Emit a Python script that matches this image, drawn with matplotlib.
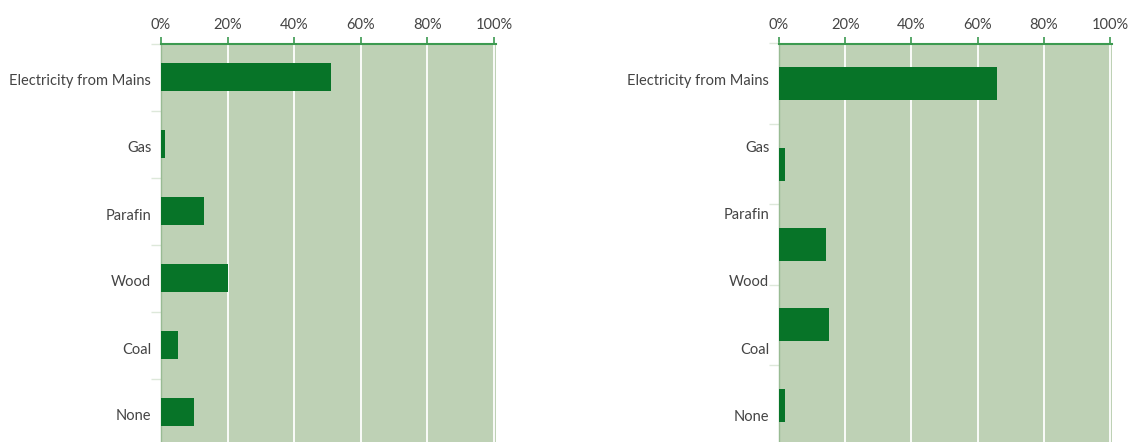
import numpy as np
import matplotlib.pyplot as plt
from matplotlib.ticker import FuncFormatter
from matplotlib.transforms import ScaledTranslation

# Energy sources (shared labels)
sources = ["Electricity from Mains", "Gas", "Parafin", "Wood", "Coal", "None"]

# Share of households (%) per source, left panel
left_values = [51, 1.2, 13, 20, 5, 10]
# Right panel has only five bars, spread over its own slots
right_values = [66, 1.8, 14.2, 15.1, 1.8]

x_ticks = [0, 20, 40, 60, 80, 100]

BG = "#bed1b5"
BAR = "#077428"
AXIS_GREEN = "#3c9a50"
TEXT = "#444444"

plt.rcParams["font.family"] = ["Lato", "DejaVu Sans"]

fig = plt.figure(figsize=(11.3, 4.42), dpi=100)
W, H = 1130, 442
TOP = 43.5
AX_H = 402


def style_axis(ax):
    ax.set_facecolor(BG)
    ax.set_xlim(0, 100.6)
    ax.xaxis.tick_top()
    ax.set_xticks(x_ticks)
    ax.xaxis.set_major_formatter(FuncFormatter(lambda v, p: f"{v:.0f}%"))
    ax.tick_params(axis="x", which="major", direction="out", length=5,
                   width=1.2, color=AXIS_GREEN, labelcolor=TEXT,
                   labelsize=10.5, pad=3)
    ax.grid(axis="x", color="white", linewidth=1.3)
    ax.set_axisbelow(True)
    for side in ("bottom", "right"):
        ax.spines[side].set_visible(False)
    ax.spines["top"].set_color(AXIS_GREEN)
    ax.spines["top"].set_linewidth(1.5)
    ax.spines["left"].set_color("#98bb93")
    ax.spines["left"].set_linewidth(1)


def nudge_labels(axis, dy_px=-3):
    # move category labels down a touch so they sit level with the bars
    shift = ScaledTranslation(0, dy_px / 100, fig.dpi_scale_trans)
    for tick in axis.get_major_ticks():
        tick.label1.set_transform(tick.label1.get_transform() + shift)


# Left panel
ax1 = fig.add_axes([161 / W, (H - TOP - AX_H) / H, 335 / W, AX_H / H])
style_axis(ax1)
y1 = np.arange(len(left_values))
ax1.barh(y1, left_values, height=0.41, color=BAR, zorder=3)
ax1.set_ylim(len(sources) - 0.5, -0.5)
ax1.set_yticks(y1)
ax1.set_yticklabels(sources)
ax1.set_yticks(np.arange(-0.5, len(sources), 1), minor=True)
ax1.tick_params(axis="y", which="major", length=0, pad=7,
                labelsize=10.5, labelcolor=TEXT)
ax1.tick_params(axis="y", which="minor", length=7, width=1,
                color="#dde8da")
nudge_labels(ax1.yaxis)

# Right panel
ax2 = fig.add_axes([779 / W, (H - TOP - AX_H) / H, 333 / W, AX_H / H])
style_axis(ax2)
y2 = np.arange(len(right_values))
ax2.barh(y2, right_values, height=0.41, color=BAR, zorder=3)
ax2.set_ylim(len(right_values) - 0.5, -0.5)
ax2.set_yticks([])
ax2.set_yticks(np.arange(-0.5, len(right_values), 1), minor=True)
ax2.tick_params(axis="y", which="minor", length=7, width=1,
                color="#dde8da")

# Category labels sit on six slots while the bars use five
scale = len(sources) / len(right_values)
sec = ax2.secondary_yaxis(
    "left",
    functions=(lambda y: (y + 0.5) * scale - 0.5,
               lambda y: (y + 0.5) / scale - 0.5),
)
sec.set_yticks(np.arange(len(sources)))
sec.set_yticklabels(sources)
sec.tick_params(axis="y", length=0, pad=7, labelsize=10.5, labelcolor=TEXT)
sec.spines["left"].set_visible(False)
nudge_labels(sec.yaxis)

fig.savefig("out.png", dpi=100, facecolor="white")
